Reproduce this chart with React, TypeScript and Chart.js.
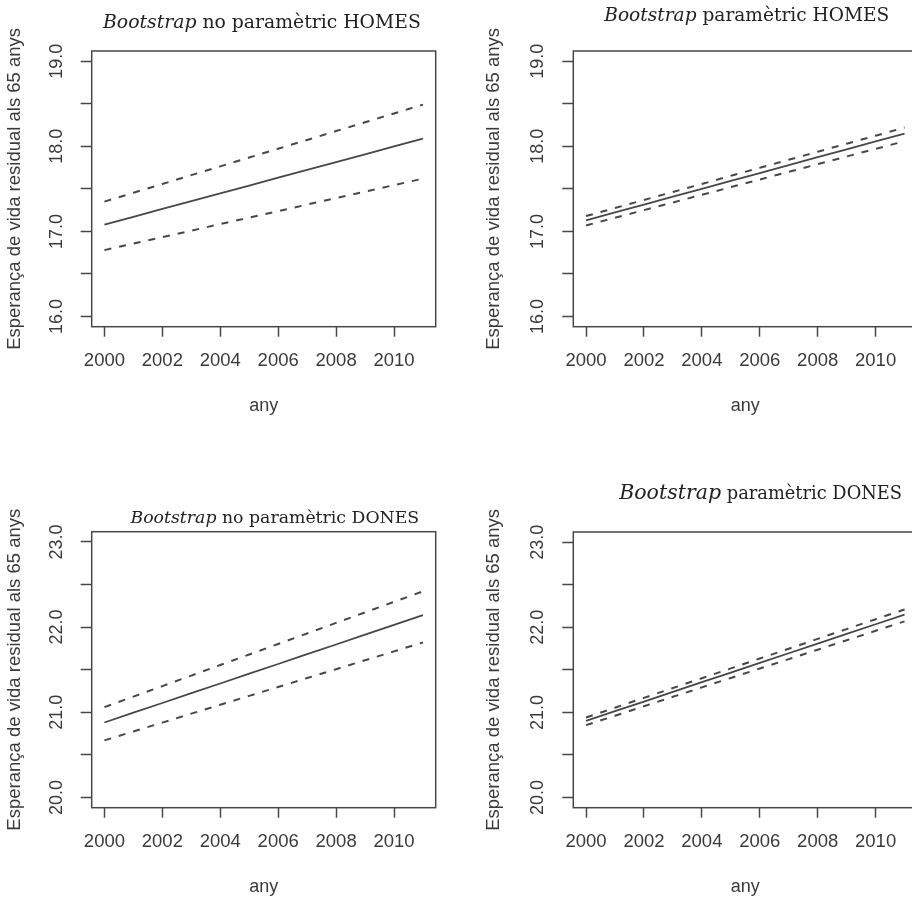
import { useEffect, useRef } from 'react';
import { Chart, registerables } from 'chart.js';

Chart.register(...registerables);

// ---------- data ----------
const YEARS = [2000, 2001, 2002, 2003, 2004, 2005, 2006, 2007, 2008, 2009, 2010, 2011];

const HOMES_NP_FIT = [17.08, 17.172, 17.264, 17.355, 17.447, 17.539, 17.631, 17.723, 17.814, 17.906, 17.998, 18.09];
const HOMES_NP_HI = [17.35, 17.454, 17.557, 17.661, 17.764, 17.868, 17.972, 18.075, 18.179, 18.282, 18.386, 18.49];
const HOMES_NP_LO = [16.78, 16.856, 16.933, 17.009, 17.086, 17.162, 17.238, 17.315, 17.391, 17.468, 17.544, 17.62];

const HOMES_P_FIT = [17.13, 17.223, 17.315, 17.408, 17.501, 17.594, 17.686, 17.779, 17.872, 17.965, 18.057, 18.15];
const HOMES_P_HI = [17.18, 17.275, 17.369, 17.464, 17.558, 17.653, 17.747, 17.842, 17.936, 18.031, 18.125, 18.22];
const HOMES_P_LO = [17.07, 17.16, 17.25, 17.34, 17.43, 17.52, 17.61, 17.7, 17.79, 17.88, 17.97, 18.06];

const DONES_NP_FIT = [20.88, 20.995, 21.109, 21.224, 21.338, 21.453, 21.567, 21.682, 21.796, 21.911, 22.025, 22.14];
const DONES_NP_HI = [21.06, 21.184, 21.307, 21.431, 21.555, 21.678, 21.802, 21.925, 22.049, 22.173, 22.296, 22.42];
const DONES_NP_LO = [20.67, 20.775, 20.879, 20.984, 21.088, 21.193, 21.297, 21.402, 21.506, 21.611, 21.715, 21.82];

const DONES_P_FIT = [20.9, 21.014, 21.127, 21.241, 21.355, 21.468, 21.582, 21.695, 21.809, 21.923, 22.036, 22.15];
const DONES_P_HI = [20.94, 21.055, 21.171, 21.286, 21.402, 21.517, 21.633, 21.748, 21.864, 21.979, 22.095, 22.21];
const DONES_P_LO = [20.85, 20.961, 21.072, 21.183, 21.294, 21.405, 21.515, 21.626, 21.737, 21.848, 21.959, 22.07];

const X_RANGE = [1999.56, 2011.44];
const HOMES_RANGE = [15.88, 19.12];
const DONES_RANGE = [19.88, 23.12];
const X_TICK_STEP = 2;
const Y_TICK_STEP = 0.5;

const Y_TITLE = 'Esperança de vida residual als 65 anys';
const X_TITLE = 'any';

// ---------- style ----------
const INK = '#474747';
const TEXT = '#3a3a3a';
const SANS = '"Liberation Sans", Arial, Helvetica, sans-serif';
const SERIF = '"DejaVu Serif", "Liberation Serif", serif';

type Part = { text: string; italic?: boolean; scale?: number };
type PanelSpec = {
  left: number; top: number; width: number; height: number;
  area: { left: number; top: number; right: number; bottom: number };
  yTitleX: number; anyY: number;
  title: { parts: Part[]; cx: number; baseline: number; width: number };
  yRange: number[];
  hi: number[]; fit: number[]; lo: number[];
};

const framePlugin = {
  id: 'frame',
  afterDatasetsDraw(chart: any) {
    const { ctx, chartArea: a } = chart;
    ctx.save();
    ctx.strokeStyle = INK;
    ctx.lineWidth = 1.5;
    ctx.strokeRect(a.left, a.top, a.right - a.left, a.bottom - a.top);
    ctx.restore();
  },
};

const panelTitlePlugin = {
  id: 'panelTitle',
  afterDraw(chart: any, _args: any, o: any) {
    if (!o || !o.parts) return;
    const ctx = chart.ctx;
    const base = 20;
    const fontOf = (p: Part, size: number) => `${p.italic ? 'italic ' : ''}${size * (p.scale || 1)}px ${SERIF}`;
    ctx.save();
    let w = 0;
    for (const p of o.parts) {
      ctx.font = fontOf(p, base);
      w += ctx.measureText(p.text).width;
    }
    const size = (base * o.width) / w;
    let x = o.cx - o.width / 2;
    ctx.fillStyle = '#222';
    ctx.textBaseline = 'alphabetic';
    ctx.textAlign = 'left';
    for (const p of o.parts) {
      ctx.font = fontOf(p, size);
      ctx.fillText(p.text, x, o.baseline);
      x += ctx.measureText(p.text).width;
    }
    ctx.restore();
  },
};

function Panel({ spec }: { spec: PanelSpec }) {
  const ref = useRef<HTMLCanvasElement | null>(null);
  useEffect(() => {
    if (!ref.current) return;
    const s = spec;
    const lineH = 18 * 1.2;
    const xScaleH = s.anyY - s.area.bottom + lineH / 2;
    const mk = (vals: number[], dashed: boolean) => ({
      data: YEARS.map((x, i) => ({ x, y: vals[i] })),
      borderColor: INK,
      borderWidth: dashed ? 2 : 1.8,
      borderDash: dashed ? [7, 8] : [],
      pointRadius: 0,
      fill: false,
      tension: 0,
    });
    const chart = new Chart(ref.current, {
      type: 'line',
      data: { datasets: [mk(s.hi, true), mk(s.fit, false), mk(s.lo, true)] as any },
      options: {
        animation: false,
        responsive: false,
        maintainAspectRatio: false,
        devicePixelRatio: 1,
        events: [],
        layout: {
          padding: {
            left: 0,
            top: s.area.top,
            right: s.width - s.area.right,
            bottom: s.height - s.area.bottom - xScaleH,
          },
        },
        plugins: {
          legend: { display: false },
          tooltip: { enabled: false },
          title: { display: false },
          panelTitle: s.title,
        } as any,
        scales: {
          x: {
            type: 'linear',
            min: X_RANGE[0],
            max: X_RANGE[1],
            afterFit: (sc: any) => { sc.height = xScaleH; },
            grid: { drawOnChartArea: false, drawTicks: true, tickLength: 10, tickColor: INK, tickWidth: 1.5 },
            border: { display: false },
            ticks: {
              stepSize: X_TICK_STEP,
              includeBounds: false,
              autoSkip: false,
              maxRotation: 0,
              minRotation: 0,
              padding: 13,
              color: TEXT,
              font: { family: SANS, size: 18.5 },
              callback: (v: any) => String(v),
            },
            title: { display: true, text: X_TITLE, color: TEXT, font: { family: SANS, size: 18 }, padding: 0 },
          },
          y: {
            type: 'linear',
            min: s.yRange[0],
            max: s.yRange[1],
            afterFit: (sc: any) => { sc.width = s.area.left; },
            grid: { drawOnChartArea: false, drawTicks: true, tickLength: 11, tickColor: INK, tickWidth: 1.5 },
            border: { display: false },
            ticks: {
              stepSize: Y_TICK_STEP,
              includeBounds: false,
              autoSkip: false,
              minRotation: 90,
              maxRotation: 90,
              crossAlign: 'center',
              padding: 6.5,
              color: TEXT,
              font: { family: SANS, size: 18 },
              callback: (v: any) => (Math.abs(v - Math.round(v)) < 1e-9 ? Number(v).toFixed(1) : ''),
            },
            title: {
              display: true,
              text: Y_TITLE,
              color: TEXT,
              font: { family: SANS, size: 18.5 },
              padding: { top: s.yTitleX - (18.5 * 1.2) / 2, bottom: 0 },
            },
          },
        },
      } as any,
      plugins: [framePlugin, panelTitlePlugin],
    });
    return () => chart.destroy();
  }, [spec]);
  return (
    <canvas
      ref={ref}
      width={spec.width}
      height={spec.height}
      style={{ position: 'absolute', left: spec.left, top: spec.top, width: spec.width, height: spec.height }}
    />
  );
}

const PANELS: PanelSpec[] = [
  {
    left: 0, top: 0, width: 456, height: 449,
    area: { left: 91.7, top: 51, right: 435.7, bottom: 326.7 },
    yTitleX: 15, anyY: 406,
    title: { parts: [{ text: 'Bootstrap', italic: true }, { text: ' no paramètric HOMES' }], cx: 262, baseline: 28.3, width: 318 },
    yRange: HOMES_RANGE, hi: HOMES_NP_HI, fit: HOMES_NP_FIT, lo: HOMES_NP_LO,
  },
  {
    left: 456, top: 0, width: 480, height: 449,
    area: { left: 117.3, top: 51, right: 461.3, bottom: 326.7 },
    yTitleX: 38, anyY: 406,
    title: { parts: [{ text: 'Bootstrap', italic: true }, { text: ' paramètric HOMES' }], cx: 290.8, baseline: 20.7, width: 285 },
    yRange: HOMES_RANGE, hi: HOMES_P_HI, fit: HOMES_P_FIT, lo: HOMES_P_LO,
  },
  {
    left: 0, top: 449, width: 456, height: 449,
    area: { left: 91.7, top: 82.7, right: 435.7, bottom: 358.7 },
    yTitleX: 15, anyY: 438,
    title: { parts: [{ text: 'Bootstrap', italic: true }, { text: ' no paramètric DONES' }], cx: 275, baseline: 74, width: 289 },
    yRange: DONES_RANGE, hi: DONES_NP_HI, fit: DONES_NP_FIT, lo: DONES_NP_LO,
  },
  {
    left: 456, top: 449, width: 480, height: 449,
    area: { left: 117.3, top: 83, right: 461.3, bottom: 358.7 },
    yTitleX: 38, anyY: 438,
    title: { parts: [{ text: 'Bootstrap', italic: true, scale: 1.15 }, { text: ' paramètric DONES' }], cx: 304.7, baseline: 50.3, width: 283 },
    yRange: DONES_RANGE, hi: DONES_P_HI, fit: DONES_P_FIT, lo: DONES_P_LO,
  },
];

export default function App() {
  return (
    <div
      style={{
        position: 'fixed', left: 0, top: 0, width: 912, height: 898,
        overflow: 'hidden', background: '#fff',
      }}
    >
      {PANELS.map((p, i) => (
        <Panel key={i} spec={p} />
      ))}
    </div>
  );
}
